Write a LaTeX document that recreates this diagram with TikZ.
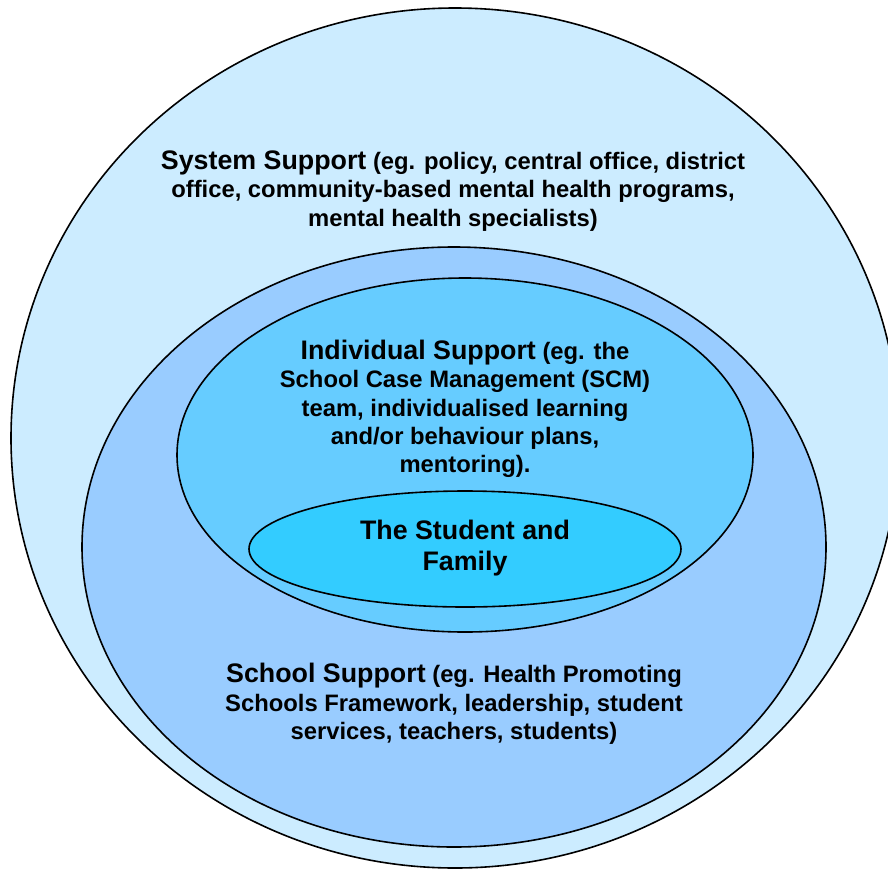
\documentclass[tikz,border=0pt]{standalone}
\usepackage{fontspec}
\setmainfont{Liberation Sans}
\usetikzlibrary{shapes.geometric}
\definecolor{systemblue}{RGB}{204,236,255}
\definecolor{schoolblue}{RGB}{153,204,255}
\definecolor{indivblue}{RGB}{102,204,255}
\definecolor{studentblue}{RGB}{51,204,255}
\newcommand{\headsize}{\fontsize{26.8}{28.3}\selectfont}

\begin{document}
\begin{tikzpicture}[x=1pt, y=-1pt,
    ring/.style={ellipse, draw, line width=1.6pt, inner sep=0pt},
    blurb/.style={align=center, inner sep=0pt, font=\fontsize{23.8}{28.3}\selectfont\bfseries}
]

\useasboundingbox (0,0) rectangle (888,873);
\clip (0,0) rectangle (888,873);

% nested support levels
\node[ring, fill=systemblue, minimum width=888pt, minimum height=860pt] (system) at (455,438) {};
\node[ring, fill=schoolblue, minimum width=744pt, minimum height=600pt] (school) at (454,547) {};
\node[ring, fill=indivblue, minimum width=576pt, minimum height=354pt] (individual) at (465,455) {};
\node[ring, fill=studentblue, minimum width=432pt, minimum height=116pt] (student) at (465,549) {};

% texts
\node[blurb] (systemtext) at (453,191) {{\headsize System Support} (eg. policy, central office, district\\office, community-based mental health programs,\\mental health specialists)};
\node[blurb] (indivtext) at (465,409) {{\headsize Individual Support} (eg. the\\School Case Management (SCM)\\team, individualised learning\\and/or behaviour plans,\\mentoring).};
\node[blurb, font=\fontsize{26.8}{31}\selectfont\bfseries] (studenttext) at (465,548) {The Student and\\Family};
\node[blurb] (schooltext) at (454,704) {{\headsize School Support} (eg. Health Promoting\\Schools Framework, leadership, student\\services, teachers, students)};

\end{tikzpicture}
\end{document}
